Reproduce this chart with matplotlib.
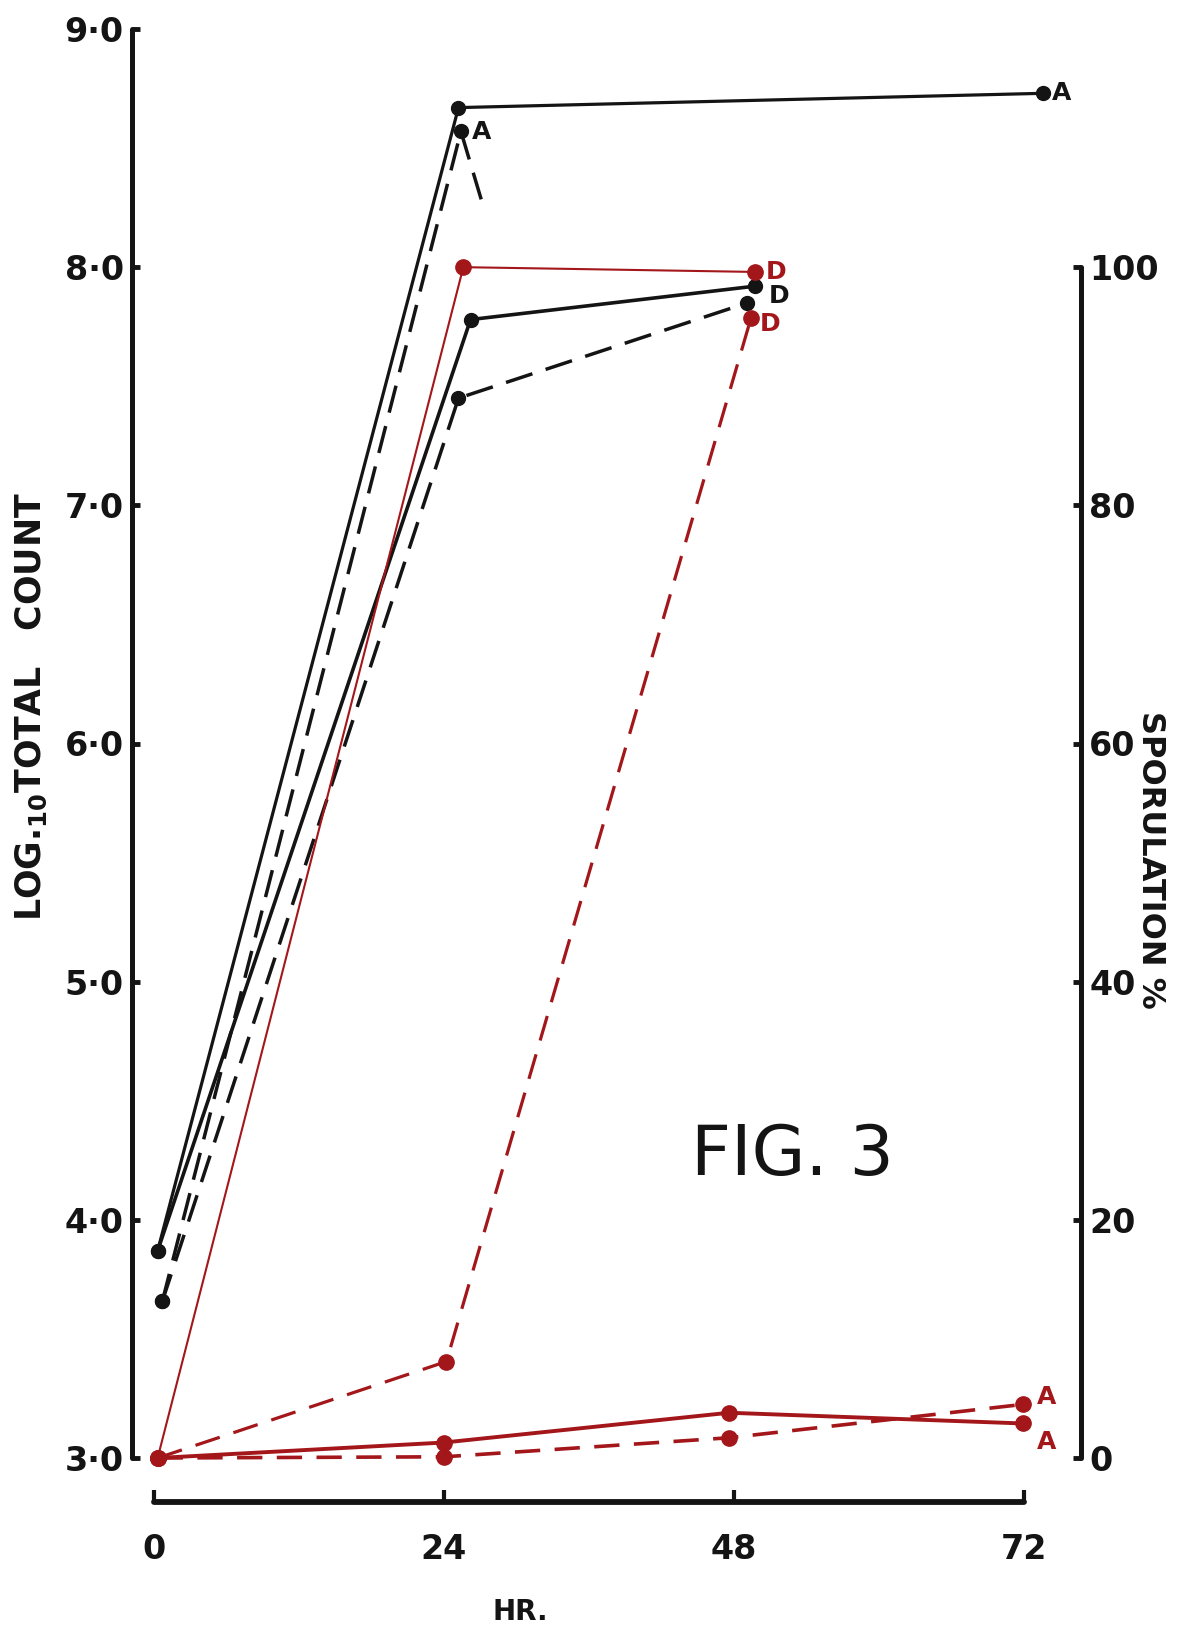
import numpy as np
import matplotlib.pyplot as plt

plt.rcParams['font.family'] = ['DejaVu Sans', 'Noto Sans']
plt.rcParams['mathtext.fontset'] = 'dejavusans'
plt.rcParams['mathtext.default'] = 'bf'

BLACK = '#141414'
RED = '#a3161a'

# axis ticks
hour_ticks = [0, 24, 48, 72]
hour_labels = ['0', '24', '48', '72']
log_ticks = [3, 4, 5, 6, 7, 8, 9]
log_labels = ['3·0', '4·0', '5·0', '6·0', '7·0', '8·0', '9·0']
spor_ticks = [0, 20, 40, 60, 80, 100]
spor_labels = ['0', '20', '40', '60', '80', '100']

# log10 total count (black)
a_solid_t = [0.3, 25.2, 73.6]
a_solid_log = [3.87, 8.67, 8.73]
a_dash_t = [0.7, 25.4, 27.4]
a_dash_log = [3.66, 8.57, 8.23]
d_solid_t = [0.3, 26.2, 49.7]
d_solid_log = [3.87, 7.78, 7.92]
d_dash_t = [0.7, 25.2, 49.1]
d_dash_log = [3.66, 7.45, 7.85]

# sporulation % (red)
d_solid_sp_t = [0.3, 25.6, 49.7]
d_solid_sp = [0, 100, 99.6]
d_dash_sp_t = [0.3, 24.2, 49.4]
d_dash_sp = [0, 8.1, 95.7]
a_solid_sp_t = [0.3, 24.0, 47.6, 71.9]
a_solid_sp = [0, 1.3, 3.8, 2.9]
a_dash_sp_t = [0.3, 24.0, 47.6, 71.9]
a_dash_sp = [0, 0.1, 1.7, 4.5]

W, H = 1191, 1629
fig = plt.figure(figsize=(W / 100, H / 100), dpi=100)
ax = fig.add_axes([132 / W, (H - 1458) / H, (1081 - 132) / W, (1458 - 29) / H])
ax2 = ax.twinx()

ax.set_xlim(-22 / 12.08, 72 + 57 / 12.08)
ax.set_ylim(3, 9)
ax2.set_ylim(0, 120)
ax.patch.set_visible(False)

# black curves - total count
kw = dict(color=BLACK, marker='o', markersize=10, clip_on=False)
ax.plot(a_solid_t, a_solid_log, lw=2.3, **kw)
ax.plot(a_dash_t, a_dash_log, lw=2.5, dashes=(8, 4), markevery=[0, 1], **kw)
ax.plot(d_solid_t, d_solid_log, lw=2.6, **kw)
ax.plot(d_dash_t, d_dash_log, lw=2.5, dashes=(8, 4), **kw)

# red curves - sporulation
kr = dict(color=RED, marker='o', markersize=11, clip_on=False)
ax2.plot(d_solid_sp_t, d_solid_sp, lw=1.5, **kr)
ax2.plot(d_dash_sp_t, d_dash_sp, lw=2.3, dashes=(8, 4.5), **kr)
ax2.plot(a_solid_sp_t, a_solid_sp, lw=2.8, **kr)
ax2.plot(a_dash_sp_t, a_dash_sp, lw=2.6, dashes=(7, 4), **kr)

# curve letters
lab = dict(fontsize=18, fontweight='bold', textcoords='offset pixels', ha='left', va='center')
ax.annotate('A', (a_solid_t[-1], a_solid_log[-1]), xytext=(9, 0), color=BLACK, **lab)
ax.annotate('A', (a_dash_t[1], a_dash_log[1]), xytext=(11, -1), color=BLACK, **lab)
ax.annotate('D', (d_solid_t[-1], d_solid_log[-1]), xytext=(14, -10), color=BLACK, **lab)
ax2.annotate('D', (d_solid_sp_t[-1], d_solid_sp[-1]), xytext=(11, 0), color=RED, **lab)
ax2.annotate('D', (d_dash_sp_t[-1], d_dash_sp[-1]), xytext=(9, -6), color=RED, **lab)
ax2.annotate('A', (a_dash_sp_t[-1], a_dash_sp[-1]), xytext=(14, 7), color=RED, **lab)
ax2.annotate('A', (a_solid_sp_t[-1], a_solid_sp[-1]), xytext=(14, -19), color=RED, **lab)

# spines
for s in ['top', 'right']:
    ax.spines[s].set_visible(False)
for s in ['top', 'left', 'bottom']:
    ax2.spines[s].set_visible(False)
ax.spines['left'].set_linewidth(3.6)
ax.spines['left'].set_bounds(3, 9)
ax.spines['bottom'].set_linewidth(4.2)
ax.spines['bottom'].set_position(('outward', 31.7))
ax.spines['bottom'].set_bounds(0, 72)
ax2.spines['right'].set_linewidth(3.6)
ax2.spines['right'].set_bounds(0, 100)
for sp in list(ax.spines.values()) + list(ax2.spines.values()):
    sp.set_color(BLACK)
    sp.set_capstyle('round')

ax.set_xticks(hour_ticks, hour_labels, fontweight='bold')
ax.set_yticks(log_ticks, log_labels, fontweight='bold')
ax2.set_yticks(spor_ticks, spor_labels, fontweight='bold')
ax.tick_params(axis='x', direction='in', length=9, width=3, pad=22, labelsize=24, colors=BLACK)
ax.tick_params(axis='y', direction='in', length=6, width=3.5, pad=6, labelsize=24, colors=BLACK)
ax2.tick_params(axis='y', direction='in', length=6, width=3.5, pad=6, labelsize=24, colors=BLACK)

# axis titles and figure label
fig.text(31 / W, 1 - 707 / H, r'LOG.$_{10}$TOTAL   COUNT', rotation=90,
         ha='center', va='center', fontsize=25, fontweight='bold', color=BLACK)
fig.text(1150 / W, 1 - 860 / H, 'SPORULATION %', rotation=-90,
         ha='center', va='center', fontsize=23, fontweight='bold', color=BLACK)
fig.text(520 / W, 1 - 1612 / H, 'HR.', ha='center', va='center', fontsize=20,
         fontweight='bold', color=BLACK)
fig.text(792 / W, 1 - 1156 / H, 'FIG. 3', ha='center', va='center', fontsize=50, color=BLACK)

fig.savefig('out.png', dpi=100, facecolor='white')
